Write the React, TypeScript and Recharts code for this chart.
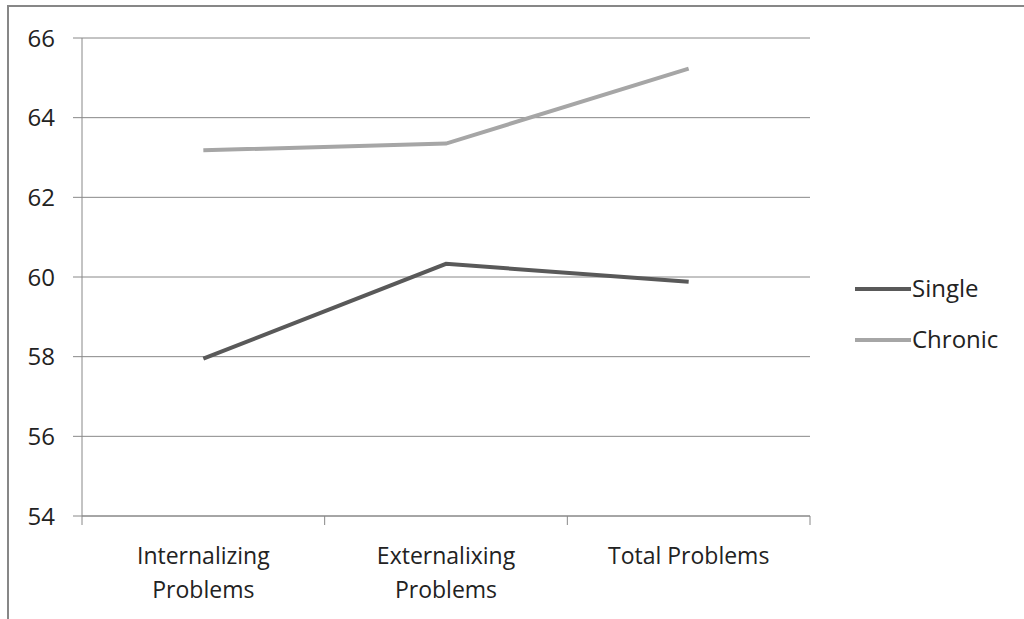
import { LineChart, Line, XAxis, YAxis, CartesianGrid, Legend } from "recharts";

const categories = ["Internalizing Problems", "Externalixing Problems", "Total Problems"];
const categoryLines = [["Internalizing", "Problems"], ["Externalixing", "Problems"], ["Total Problems"]];
const single = [57.95, 60.33, 59.88];
const chronic = [63.18, 63.35, 65.23];
const yTicks = [54, 56, 58, 60, 62, 64, 66];

const rows = categories.map((name, i) => ({ name, single: single[i], chronic: chronic[i] }));

const FONT = "'Open Sans', sans-serif";
const AXIS = "#888888";

function XTick(props: any) {
  const { x, y, payload, index } = props;
  const half = payload.offset ?? 0;
  const lines = categoryLines[index] ?? [payload.value];
  return (
    <g>
      <line x1={x - half} x2={x - half} y1={y - 8} y2={y + 1} stroke={AXIS} />
      {index === categories.length - 1 && (
        <line x1={x + half} x2={x + half} y1={y - 8} y2={y + 1} stroke={AXIS} />
      )}
      {lines.map((t: string, i: number) => (
        <text key={i} x={x} y={y + 40 + i * 34} textAnchor="middle" fontSize={23} fill="#222" fontFamily={FONT}>
          {t}
        </text>
      ))}
    </g>
  );
}

function LegendBox() {
  const items = [
    { label: "Single", color: "#595959" },
    { label: "Chronic", color: "#a6a6a6" },
  ];
  return (
    <svg width={160} height={110}>
      {items.map((it, i) => (
        <g key={it.label}>
          <line x1={2} x2={58} y1={20 + i * 51} y2={20 + i * 51} stroke={it.color} strokeWidth={4} />
          <text x={59} y={28 + i * 51} fontSize={24} fill="#222" fontFamily={FONT}>
            {it.label}
          </text>
        </g>
      ))}
    </svg>
  );
}

export default function App() {
  return (
    <div style={{ position: "fixed", left: 0, top: 0, width: 1024, height: 619, overflow: "hidden", background: "#fff" }}>
      <div style={{ position: "absolute", left: 7, top: 5, width: 1100, height: 700, border: "2px solid #878787" }} />
      <div style={{ position: "absolute", left: 0, top: 0 }}>
        <LineChart width={1024} height={619} data={rows} margin={{ top: 38, right: 54, bottom: 23, left: 22 }}>
          <CartesianGrid vertical={false} stroke={AXIS} strokeWidth={1} />
          <XAxis
            dataKey="name"
            scale="band"
            stroke={AXIS}
            tickLine={false}
            tick={<XTick />}
            height={80}
            interval={0}
          />
          <YAxis
            domain={[54, 66]}
            ticks={yTicks}
            stroke={AXIS}
            tickSize={9}
            tickMargin={18}
            width={60}
            tick={{ fontSize: 24, fill: "#222", fontFamily: FONT }}
          />
          <Legend layout="vertical" align="right" verticalAlign="middle" content={<LegendBox />} wrapperStyle={{ right: 11, top: 269 }} />
          <Line dataKey="single" stroke="#595959" strokeWidth={4} dot={false} isAnimationActive={false} />
          <Line dataKey="chronic" stroke="#a6a6a6" strokeWidth={4} dot={false} isAnimationActive={false} />
        </LineChart>
      </div>
    </div>
  );
}
